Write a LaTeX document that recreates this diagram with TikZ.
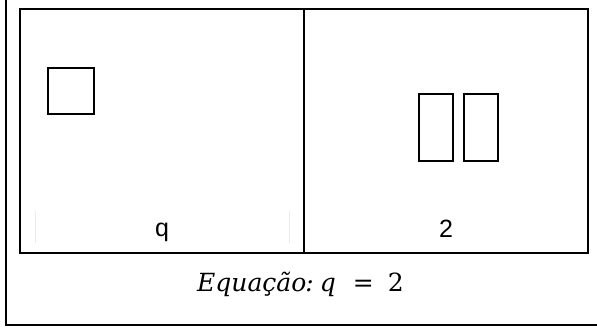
\documentclass[tikz,border=0pt]{standalone}
\usepackage{fontspec}
\newfontfamily\labelfont{Liberation Sans}
\newfontfamily\eqfont{DejaVu Serif}
\begin{document}
\begin{tikzpicture}[x=1pt,y=-1pt,
  frame/.style={line width=2.2pt},
  box/.style={draw, line width=1.8pt, inner sep=0pt, outer sep=0pt},
  divider/.style={line width=1.3pt},
  faint/.style={line width=0.8pt,draw=black!8},
  lbl/.style={font=\labelfont\fontsize{25}{30}\selectfont, inner sep=0pt, anchor=base},
  eq/.style={font=\eqfont\itshape\fontsize{25}{30}\selectfont, inner sep=0pt, anchor=base west}]
\useasboundingbox (0,0) rectangle (597,327);
% outer frame (left and bottom)
\coordinate (oTop) at (6,0);
\coordinate (oCorner) at (6,325);
\coordinate (oRight) at (597,325);
\draw[frame] (oTop) -- (oCorner) -- (oRight);
% inner panel
\node[box, minimum width=568pt, minimum height=244pt] (panelbox) at (304,131) {};
\draw[divider] (panelbox.north) -- (panelbox.south);
% faint cell borders
\coordinate (f1t) at (35,211); \coordinate (f1b) at (35,243);
\coordinate (f2t) at (289,211); \coordinate (f2b) at (289,243);
\draw[faint] (f1t) -- (f1b);
\draw[faint] (f2t) -- (f2b);
% shapes
\node[box, minimum width=46pt, minimum height=46pt] (sq) at (71,91) {};
\node[box, minimum width=34pt, minimum height=67pt] (r1) at (436,127.5) {};
\node[box, minimum width=34pt, minimum height=67pt] (r2) at (481,127.5) {};
% labels
\node[lbl] (lq) at (162,236) {q};
\node[lbl] (l2) at (446,237) {2};
\node[eq] (equ) at (197,291) {Equação\hspace{-1pt}:\hspace{6pt}q\hspace{17pt}{\upshape =}\hspace{14pt}{\upshape 2}};
\end{tikzpicture}
\end{document}
